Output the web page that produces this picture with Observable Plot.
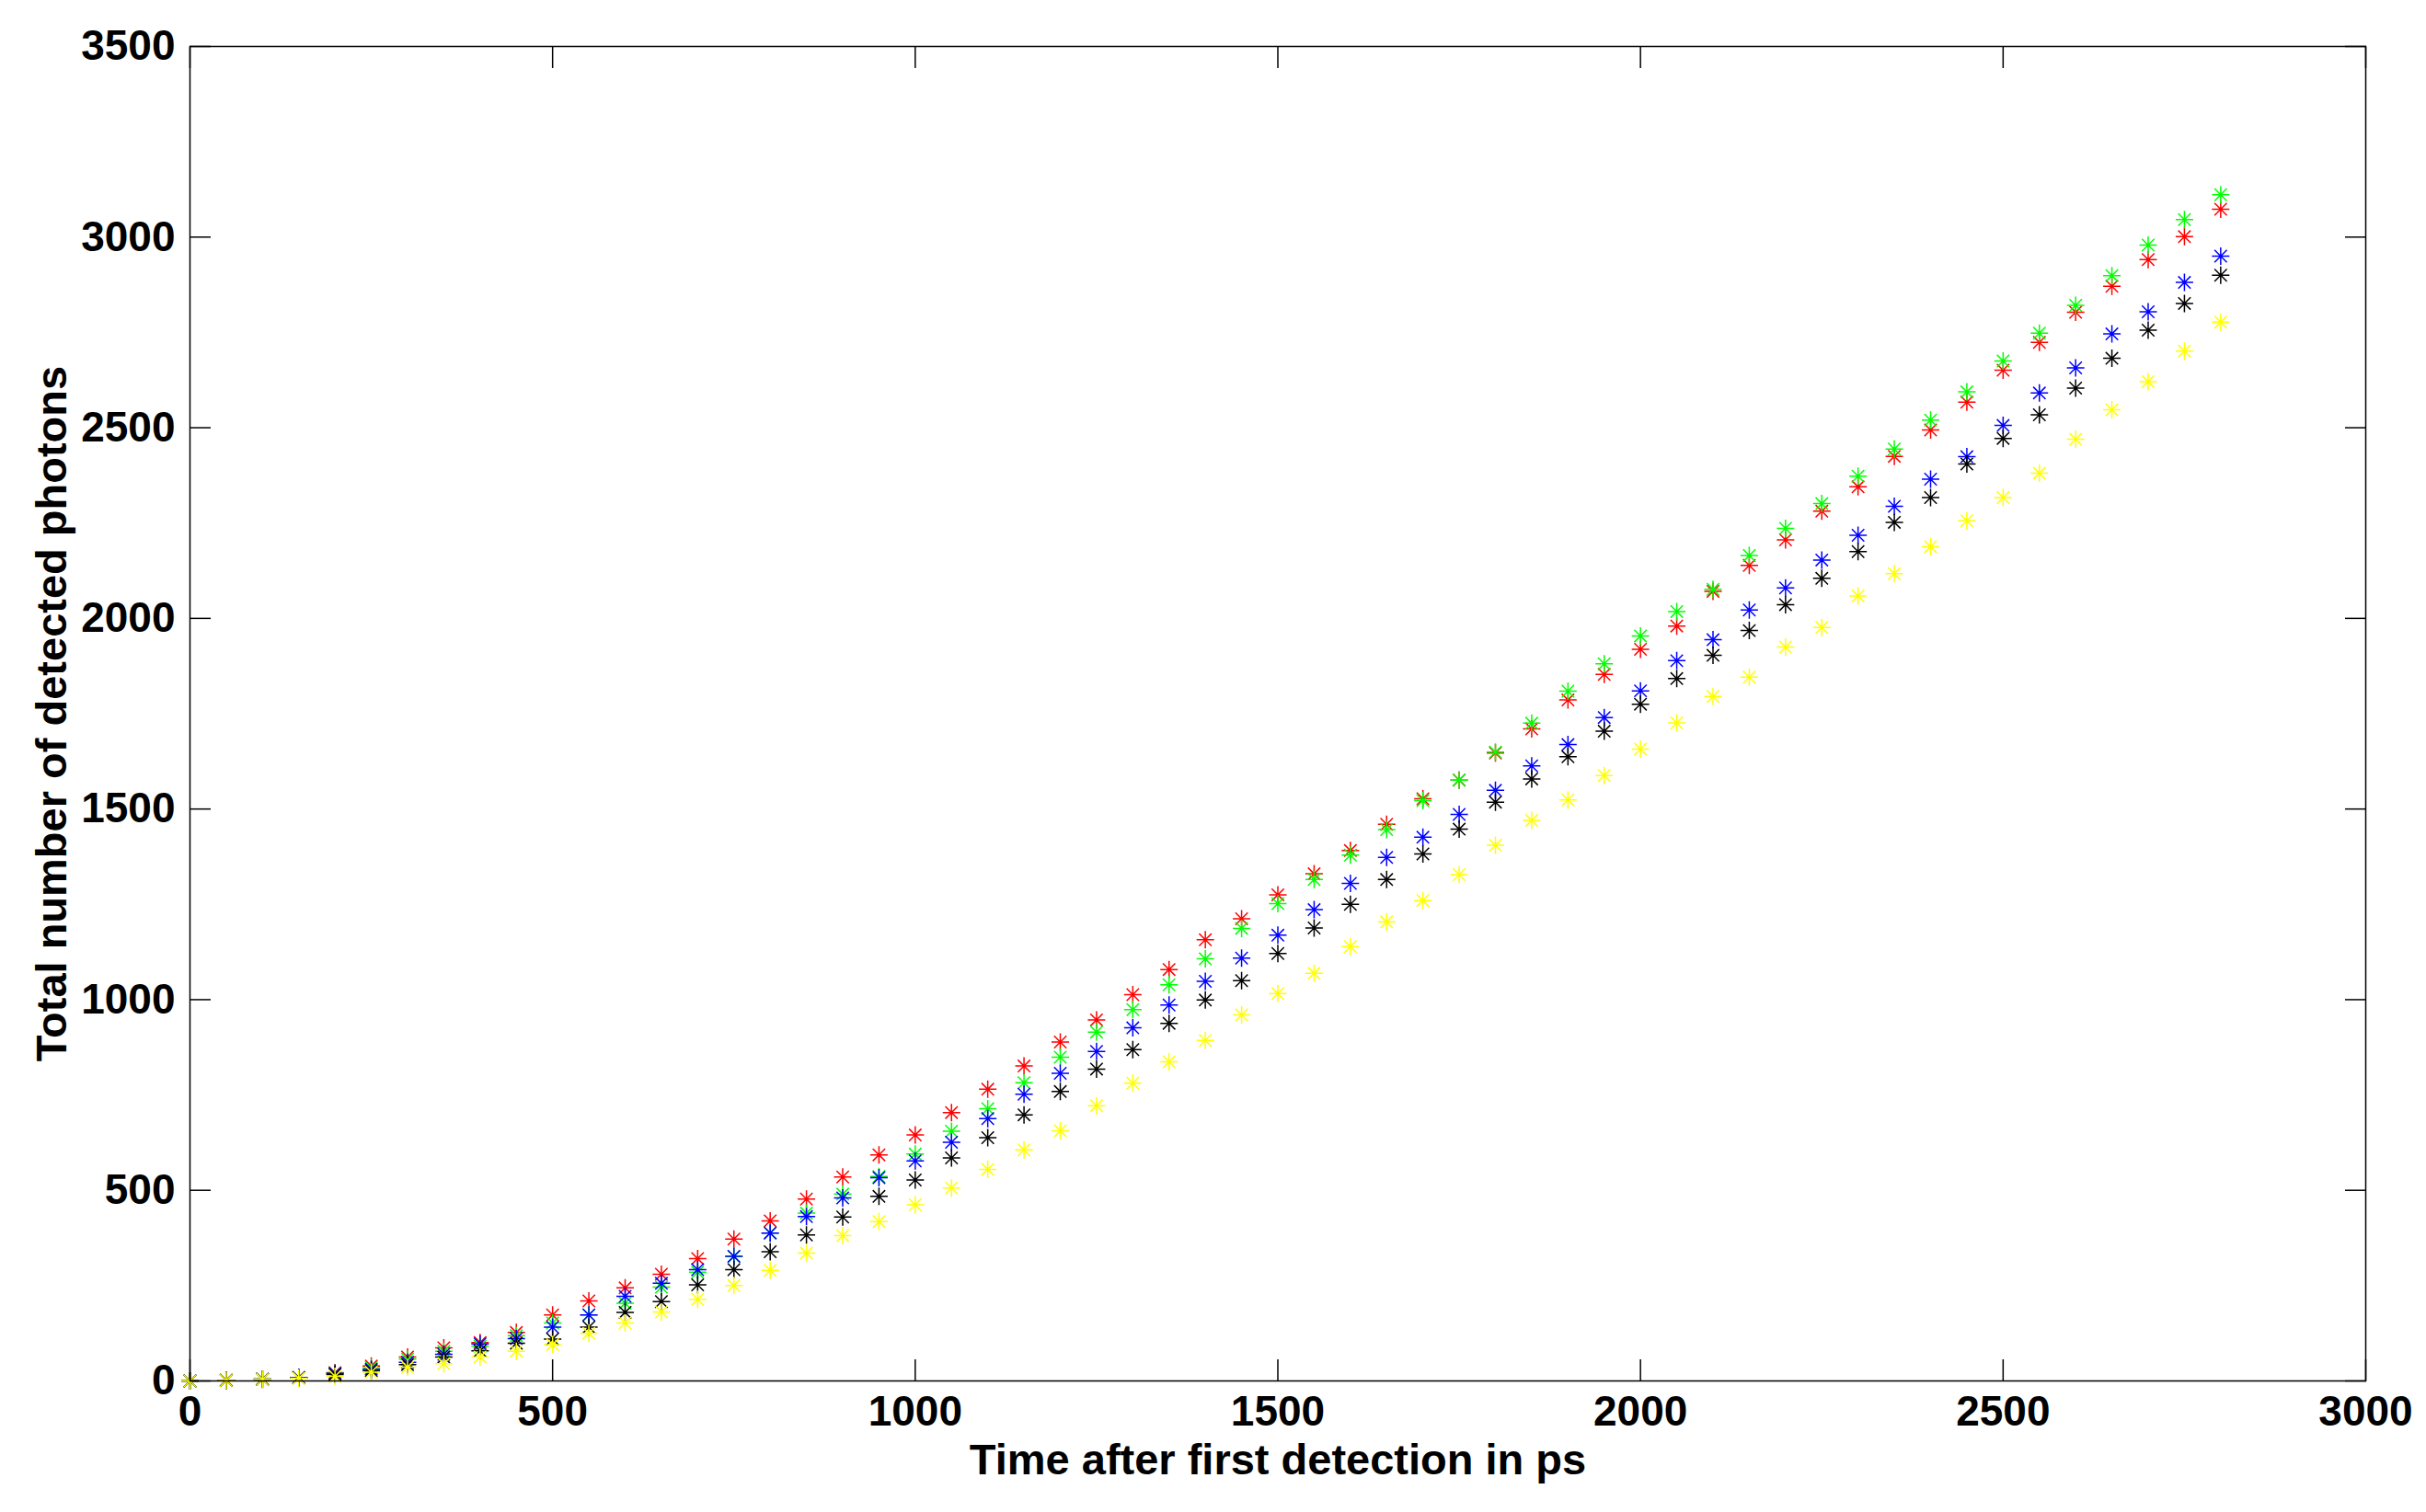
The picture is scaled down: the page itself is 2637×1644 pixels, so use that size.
<!DOCTYPE html>
<html>
<head>
<meta charset="utf-8">
<script src="https://cdn.jsdelivr.net/npm/d3@7"></script>
<script src="https://cdn.jsdelivr.net/npm/@observablehq/plot@0.6"></script>
<style>
  html, body { margin: 0; padding: 0; background: #fff; }
  #chart svg { display: block; }
</style>
</head>
<body>
<div id="chart"></div>
<script>
const time = [0,50,100,150,200,250,300,350,400,450,500,550,600,650,700,750,800,850,900,950,1000,1050,1100,1150,1200,1250,1300,1350,1400,1450,1500,1550,1600,1650,1700,1750,1800,1850,1900,1950,2000,2050,2100,2150,2200,2250,2300,2350,2400,2450,2500,2550,2600,2650,2700,2750,2800];

const redSeries = [0,2,5,9,22,39,63,87,101,127,173,210,244,280,321,372,420,477,535,593,645,704,765,826,889,947,1013,1079,1157,1212,1275,1330,1391,1460,1527,1576,1647,1710,1786,1853,1919,1980,2071,2139,2206,2281,2345,2425,2494,2567,2651,2724,2803,2871,2941,3001,3073];
const greenSeries = [0,2,5,9,20,35,57,78,91,119,152,173,204,246,285,326,388,440,490,536,595,655,714,782,849,915,974,1039,1107,1187,1252,1315,1379,1446,1522,1576,1649,1725,1809,1881,1954,2018,2076,2165,2236,2301,2373,2444,2520,2594,2675,2748,2821,2899,2979,3046,3111];
const blueSeries = [0,2,5,9,20,31,49,70,97,111,141,173,222,256,292,327,388,431,480,533,577,626,688,752,807,864,926,986,1048,1109,1169,1236,1305,1373,1426,1486,1549,1613,1669,1740,1810,1889,1944,2022,2080,2153,2218,2294,2365,2424,2506,2591,2657,2746,2804,2881,2950];
const blackSeries = [0,1,4,8,17,27,43,63,79,99,110,141,180,208,252,292,339,383,430,484,527,585,638,698,759,818,869,938,999,1050,1121,1188,1250,1315,1382,1447,1518,1579,1637,1704,1775,1842,1903,1968,2036,2105,2175,2252,2317,2405,2472,2534,2604,2682,2756,2826,2900];
const yellowSeries = [0,1,4,7,12,23,36,45,63,78,95,125,152,181,214,250,290,335,381,418,462,506,555,606,656,722,781,837,893,960,1016,1069,1139,1204,1260,1328,1405,1470,1524,1588,1657,1726,1795,1846,1925,1976,2059,2117,2188,2256,2317,2381,2470,2547,2621,2701,2777];

const xTicks = [0,500,1000,1500,2000,2500,3000];
const yTicks = [0,500,1000,1500,2000,2500,3000,3500];
const xLabel = "Time after first detection in ps";
const yLabel = "Total number of detected photons";

const seriesList = [
  {color: "#ff0000", values: redSeries},
  {color: "#00ff00", values: greenSeries},
  {color: "#0000ff", values: blueSeries},
  {color: "#000000", values: blackSeries},
  {color: "#ffff00", values: yellowSeries}
];

// MATLAB-style asterisk: plus + cross
const asterisk = {
  draw(ctx, size) {
    const r = Math.sqrt(size / Math.PI);
    const d = r * Math.SQRT1_2;
    ctx.moveTo(-r, 0); ctx.lineTo(r, 0);
    ctx.moveTo(0, -r); ctx.lineTo(0, r);
    ctx.moveTo(-d, -d); ctx.lineTo(d, d);
    ctx.moveTo(-d, d); ctx.lineTo(d, -d);
  }
};

const dotMarks = seriesList.map(s =>
  Plot.dot(time.map((t, i) => ({t, v: s.values[i]})), {
    x: "t", y: "v", symbol: asterisk, r: 9.5,
    stroke: s.color, fill: "none", strokeWidth: 1.5
  })
);

const chart = Plot.plot({
  width: 2637,
  height: 1644,
  marginLeft: 206,
  marginRight: 66,
  marginTop: 50,
  marginBottom: 143,
  style: {fontFamily: "'Liberation Sans', Arial, sans-serif", fontWeight: "bold", fontSize: "46px", color: "#000", background: "#fff"},
  x: {domain: [0, 3000]},
  y: {domain: [0, 3500]},
  marks: [
    ...dotMarks,
    Plot.frame({stroke: "#000", strokeWidth: 1.5}),
    Plot.axisX(xTicks, {anchor: "bottom", tickSize: -23, tickFormat: () => "", label: null, strokeWidth: 1.5}),
    Plot.axisX(xTicks, {anchor: "top", tickSize: -23, tickFormat: () => "", label: null, strokeWidth: 1.5}),
    Plot.axisY(yTicks, {anchor: "left", tickSize: -23, tickFormat: () => "", label: null, strokeWidth: 1.5}),
    Plot.axisY(yTicks, {anchor: "right", tickSize: -23, tickFormat: () => "", label: null, strokeWidth: 1.5}),
    Plot.axisX(xTicks, {anchor: "bottom", tickSize: 0, tickPadding: 16, label: null, fontSize: 46, fontWeight: "bold", tickFormat: d => String(d)}),
    Plot.axisY(yTicks, {anchor: "left", tickSize: 0, tickPadding: 16, label: null, fontSize: 46, fontWeight: "bold", tickFormat: d => String(d)}),
    Plot.text([xLabel], {text: d => d, frameAnchor: "bottom", dy: 86, lineAnchor: "middle", textAnchor: "middle", fontSize: 47, fontWeight: "bold", fill: "#000"}),
    Plot.text([yLabel], {text: d => d, frameAnchor: "left", dx: -150, rotate: -90, lineAnchor: "middle", textAnchor: "middle", fontSize: 47, fontWeight: "bold", fill: "#000"})
  ]
});
document.getElementById("chart").appendChild(chart);
</script>
</body>
</html>
